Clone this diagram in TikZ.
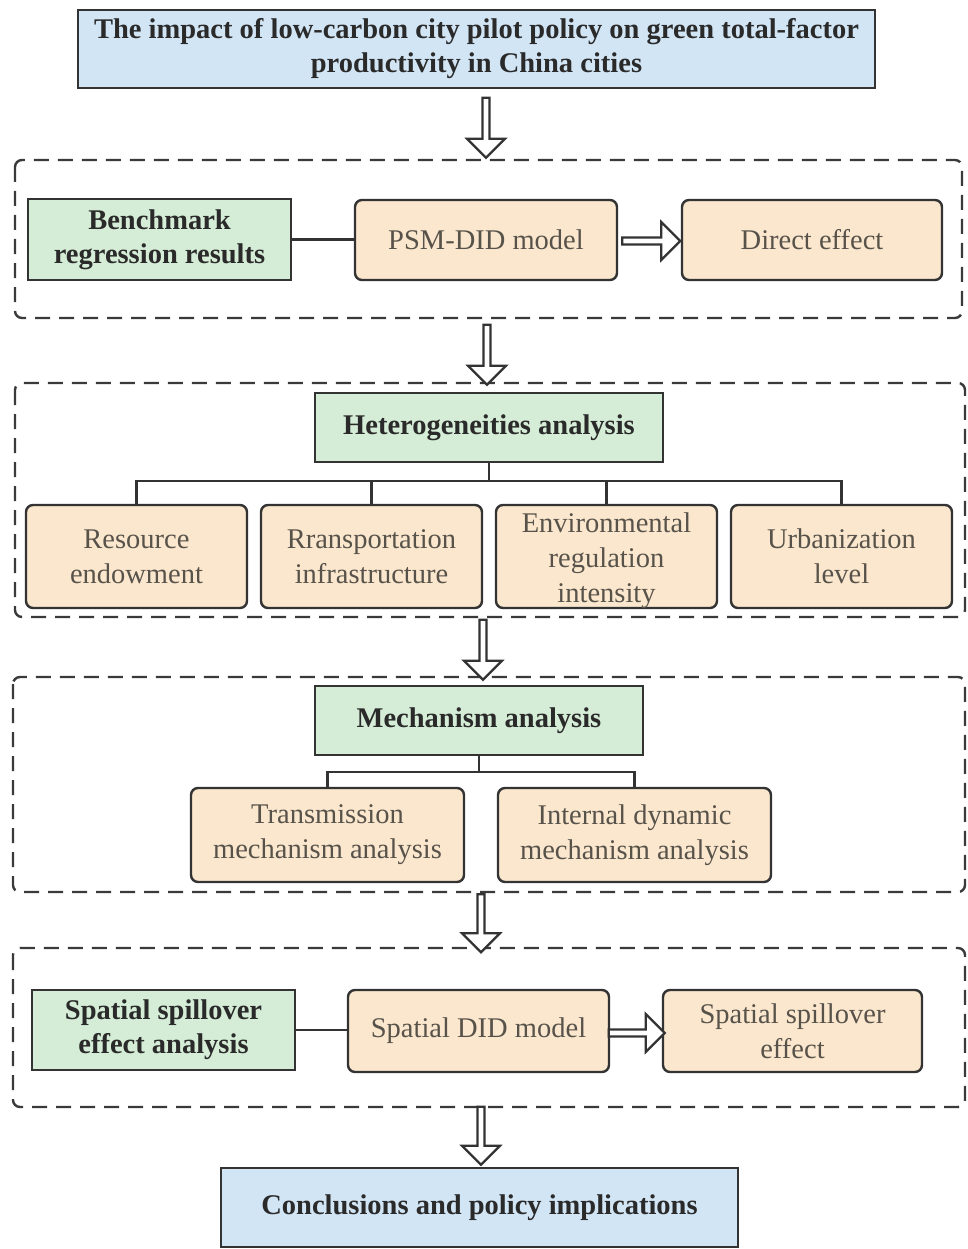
\documentclass[tikz,border=0pt]{standalone}
\usepackage{fontspec}
\setmainfont{Liberation Serif}
\usetikzlibrary{shapes.arrows,calc}
\definecolor{bluef}{HTML}{D2E5F5}
\definecolor{greenf}{HTML}{D5EDD6}
\definecolor{peachf}{HTML}{FBE7CD}
\definecolor{edgec}{HTML}{333333}
\definecolor{txtb}{HTML}{2A2A2A}
\definecolor{txtr}{HTML}{57524A}
\definecolor{framec}{HTML}{3A3A3A}
\begin{document}
\begin{tikzpicture}[x=1pt,y=-1pt,
  base/.style={draw=edgec, line width=2.4pt, align=center, inner sep=0pt},
  bluebox/.style={base, fill=bluef, text=txtb, font=\bfseries\fontsize{28.5}{34}\selectfont},
  greenbox/.style={base, fill=greenf, text=txtb, font=\bfseries\fontsize{28.5}{34}\selectfont},
  peachbox/.style={base, fill=peachf, rounded corners=7pt, text=txtr, font=\fontsize{28.5}{35}\selectfont},
  peachtext/.style={align=center, inner sep=0pt, text=txtr, font=\fontsize{28.5}{35}\selectfont},
  frame/.style={draw=framec, line width=2.4pt, dash pattern=on 15pt off 9pt, rounded corners=7pt},
  link/.style={draw=edgec, line width=2.4pt},
  downarrow/.style={single arrow, draw=edgec, fill=white, line width=2.2pt, shape border rotate=270,
    inner sep=0pt, minimum width=38pt, single arrow head extend=5pt, single arrow tip angle=90},
  rightarrow/.style={single arrow, draw=edgec, fill=white, line width=2.2pt, shape border rotate=0,
    inner sep=0pt, minimum width=38pt, single arrow head extend=5pt, single arrow tip angle=90},
]
\useasboundingbox (0,0) rectangle (968,1249);

% dashed frames
\draw[frame] (15,160) rectangle (962,318);
\draw[frame] (15,383) rectangle (965,617);
\draw[frame] (13,677) rectangle (965,892);
\draw[frame] (13,948) rectangle (965,1107);

% title
\node[bluebox, minimum width=797pt, minimum height=78pt] (title) at (476.5,49)
  {The impact of low-carbon city pilot policy on green total-factor\\productivity in China cities};

% block 1
\node[greenbox, minimum width=263pt, minimum height=81pt] (bench) at (159.5,239.5) {Benchmark\\regression results};
\node[peachbox, minimum width=262pt, minimum height=80pt] (psm) at (486,240) {PSM-DID model};
\node[peachbox, minimum width=260pt, minimum height=80pt] (direct) at (812,240) {Direct effect};
\draw[link] (bench.east) -- (bench.east -| psm.west);
\node[rightarrow, minimum height=58pt] (ra1) at (649.5,241) {};

% block 2
\node[greenbox, minimum width=348pt, minimum height=69pt] (het) at (489,427.5) {Heterogeneities analysis};
\node[peachbox, minimum width=221pt, minimum height=103pt] (h1) at (136.5,556.5) {Resource\\endowment};
\node[peachbox, minimum width=221pt, minimum height=103pt] (h2) at (371.5,556.5) {Rransportation\\infrastructure};
\node[peachbox, minimum width=221pt, minimum height=103pt] (h3) at (606.5,556.5) {};
\node[peachtext] (h3t) at ([yshift=-4pt]h3.center) {Environmental\\regulation\\intensity};
\node[peachbox, minimum width=221pt, minimum height=103pt] (h4) at (841.5,556.5) {Urbanization\\level};
\coordinate (hb) at (489,481);
\draw[link] (het.south) -- (hb);
\draw[link] (h1.north) |- (hb) -| (h4.north);
\draw[link] (h2.north) -- (h2.north |- hb);
\draw[link] (h3.north) -- (h3.north |- hb);

% block 3
\node[greenbox, minimum width=328pt, minimum height=69pt] (mech) at (479,720.5) {Mechanism analysis};
\node[peachbox, minimum width=273pt, minimum height=94pt] (m1) at (327.5,835) {Transmission\\mechanism analysis};
\node[peachbox, minimum width=273pt, minimum height=94pt] (m2) at (634.5,835) {Internal dynamic\\mechanism analysis};
\coordinate (mb) at (479,772);
\draw[link] (mech.south) -- (mb);
\draw[link] (m1.north) |- (mb) -| (m2.north);

% block 4
\node[greenbox, minimum width=263pt, minimum height=80pt] (spa) at (163.5,1030) {Spatial spillover\\effect analysis};
\node[peachbox, minimum width=261pt, minimum height=82pt] (sdid) at (478.5,1031) {Spatial DID model};
\node[peachbox, minimum width=259pt, minimum height=82pt] (sse) at (792.5,1031) {Spatial spillover\\effect};
\draw[link] (spa.east) -- (spa.east -| sdid.west);
\node[rightarrow, minimum height=56pt] (ra2) at (635,1033) {};

% conclusions
\node[bluebox, minimum width=517pt, minimum height=79pt] (concl) at (479.5,1207.5) {Conclusions and policy implications};

% down arrows
\node[downarrow, minimum height=60pt] (da1) at (486,126) {};
\node[downarrow, minimum height=60pt] (da2) at (487,353) {};
\node[downarrow, minimum height=60pt] (da3) at (483,648) {};
\node[downarrow, minimum height=58pt] (da4) at (481,921.5) {};
\node[downarrow, minimum height=58pt] (da5) at (481,1134) {};
\end{tikzpicture}
\end{document}
